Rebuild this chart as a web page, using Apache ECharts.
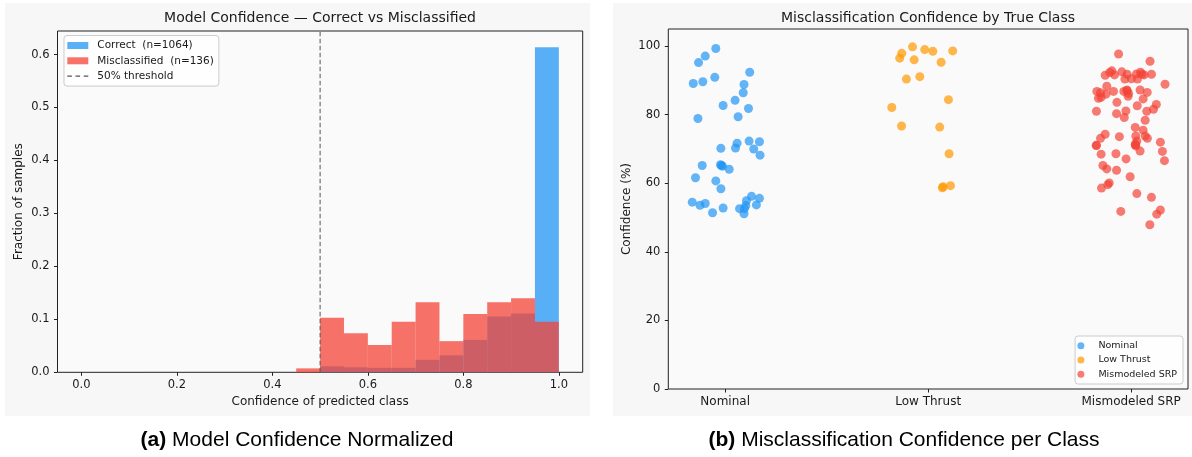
<!DOCTYPE html>
<html>
<head>
<meta charset="utf-8">
<title>Model confidence</title>
<script src="https://cdn.jsdelivr.net/npm/echarts@6/dist/echarts.min.js"></script>
<style>
  html, body { margin: 0; padding: 0; background: #ffffff; }
  #chart { width: 1192px; height: 457px; }
</style>
</head>
<body>
<div id="chart"></div>
<script>
// ---- Histogram: fraction of samples per confidence bin ----
const binEdges = [0.45, 0.50, 0.55, 0.60, 0.65, 0.70, 0.75, 0.80, 0.85, 0.90, 0.95, 1.00];
const correctFrac = [0.0000, 0.0113, 0.0094, 0.0085, 0.0085, 0.0235, 0.0320, 0.0611, 0.1053, 0.1109, 0.6137];
const misclassFrac = [0.0074, 0.1029, 0.0735, 0.0515, 0.0956, 0.1324, 0.0588, 0.1103, 0.1324, 0.1397, 0.0956];
const threshold = 0.5;
const histXTicks = [0.0, 0.2, 0.4, 0.6, 0.8, 1.0];
const histYTicks = [0.0, 0.1, 0.2, 0.3, 0.4, 0.5, 0.6];
const histYMax = 0.6444;

// ---- Strip plot: confidence of misclassified samples by true class ----
const classNames = ['Nominal', 'Low Thrust', 'Mismodeled SRP'];
const nominalJitter = [-0.046, -0.098, -0.131, -0.157, -0.110, -0.051, 0.121, 0.093, 0.089, 0.049,
  -0.010, 0.115, 0.064, -0.134, -0.021, 0.051, 0.059, 0.118, 0.169, 0.141,
  0.172, -0.113, -0.023, -0.013, 0.020, -0.146, -0.046, -0.021, -0.162, -0.124,
  -0.098, -0.062, -0.010, 0.071, 0.095, 0.105, 0.102, 0.093, 0.130, 0.169,
  0.154, -0.018];
const nominalConf = [99.3, 97.1, 95.2, 89.1, 89.6, 90.9, 92.4, 88.8, 86.4, 84.2,
  82.7, 81.8, 79.4, 78.9, 70.2, 70.3, 71.7, 72.3, 72.1, 70.0,
  68.2, 65.2, 65.4, 65.0, 64.1, 61.6, 60.7, 58.4, 54.5, 53.6,
  54.1, 51.4, 52.8, 52.6, 52.6, 54.9, 53.5, 51.1, 56.2, 55.6,
  53.7, 65.2];
const lowThrustJitter = [-0.077, -0.130, -0.140, -0.017, 0.023, 0.121, -0.069, 0.064, -0.107, -0.041,
  0.100, -0.179, -0.131, 0.057, 0.103, 0.070, 0.074, 0.110];
const lowThrustConf = [99.8, 97.9, 96.5, 99.0, 98.5, 98.6, 96.0, 95.3, 90.4, 91.1,
  84.4, 82.1, 76.7, 76.4, 68.6, 58.7, 59.0, 59.3];
const srpJitter = [-0.062, 0.093, 0.167, -0.128, -0.105, -0.095, -0.082, -0.046, -0.020, -0.031,
  0.001, 0.031, 0.026, 0.046, 0.053, 0.064, 0.100, -0.120, -0.169, -0.151,
  -0.124, -0.161, -0.148, -0.087, -0.036, -0.021, -0.013, -0.015, 0.044, 0.079,
  0.059, -0.070, 0.030, 0.124, 0.110, 0.077, -0.026, -0.072, -0.034, -0.171,
  0.069, 0.020, 0.059, 0.023, 0.069, 0.080, 0.028, 0.020, 0.023, 0.044,
  -0.058, -0.128, -0.151, -0.172, 0.144, 0.154, 0.164, -0.148, -0.075, -0.025,
  -0.139, -0.120, -0.072, -0.005, -0.108, -0.115, -0.146, 0.028, 0.100, -0.051,
  0.144, 0.126, 0.092, -0.171, -0.020, 0.021];
const srpConf = [97.7, 95.6, 88.9, 91.5, 92.3, 92.8, 91.6, 92.5, 91.8, 90.4,
  90.5, 90.4, 91.9, 92.4, 91.8, 91.6, 91.8, 88.3, 86.8, 86.4,
  86.0, 84.8, 85.1, 86.8, 86.8, 87.2, 86.2, 85.4, 87.2, 86.5,
  84.6, 83.6, 82.6, 83.0, 81.6, 81.0, 81.1, 80.3, 79.2, 81.0,
  78.4, 76.3, 75.5, 73.8, 73.8, 73.1, 72.3, 71.4, 70.9, 69.4,
  73.6, 74.3, 73.1, 71.0, 72.0, 69.3, 66.6, 68.5, 68.6, 67.1,
  65.2, 64.2, 63.8, 61.9, 60.1, 59.6, 58.6, 57.0, 55.9, 51.8,
  52.2, 51.0, 47.9, 71.1, 87.0, 71.2];
const stripYTicks = [0, 20, 40, 60, 80, 100];
const stripXTicks = [0, 1, 2];

// ---- build series data ----
function binData(fracs) {
  return fracs.map((f, i) => [binEdges[i], binEdges[i + 1], f]);
}
function stripData(classIdx, jitter, conf) {
  return conf.map((c, i) => [classIdx + jitter[i], c]);
}

const BLUE = '#2196F3', RED = '#F44336', ORANGE = '#FF9800';
const TXT = '#1a1a1a';
const FONT = 'DejaVu Sans';
// three short dashes, used as the legend key of the threshold line
const DASH_ICON = 'path://M0,0h4.6v1.2h-4.6zM8.2,0h4.6v1.2h-4.6zM16.4,0h4.6v1.2h-4.6z';

function binRenderer(color) {
  return function (params, api) {
    const top = api.coord([api.value(0), api.value(2)]);
    const base = api.coord([api.value(1), 0]);
    return {
      type: 'rect',
      shape: { x: top[0], y: top[1], width: base[0] - top[0], height: base[1] - top[1] },
      style: { fill: color, opacity: 0.75 }
    };
  };
}

const tickStyle = { show: true, inside: false, length: 3.5, lineStyle: { color: '#222', width: 1 } };
const labelStyle = { color: TXT, fontFamily: FONT, fontSize: 11.5 };
const nameStyle = { color: TXT, fontFamily: FONT, fontSize: 12 };
const hiddenLine = { show: false, onZero: false };

const chart = echarts.init(document.getElementById('chart'), null, { renderer: 'canvas' });

chart.setOption({
  backgroundColor: '#ffffff',
  animation: false,
  graphic: [
    { type: 'rect', z: -100, shape: { x: 5, y: 3, width: 585, height: 413 }, style: { fill: '#f7f7f7' } },
    { type: 'rect', z: -100, shape: { x: 613, y: 3, width: 579, height: 413 }, style: { fill: '#f7f7f7' } },
    { type: 'text', x: 320, y: 18, style: { text: 'Model Confidence \u2014 Correct vs Misclassified', fill: TXT,
      font: '14px "DejaVu Sans"', textAlign: 'center', textVerticalAlign: 'middle' } },
    { type: 'text', x: 928, y: 18, style: { text: 'Misclassification Confidence by True Class', fill: TXT,
      font: '14px "DejaVu Sans"', textAlign: 'center', textVerticalAlign: 'middle' } },
    { type: 'text', x: 297, y: 440, style: { text: '{b|(a)}{r| Model Confidence Normalized}', textAlign: 'center', textVerticalAlign: 'middle',
      rich: { b: { fontFamily: 'Liberation Sans', fontSize: 21, fontWeight: 'bold', fill: '#000' },
              r: { fontFamily: 'Liberation Sans', fontSize: 21, fill: '#000' } } } },
    { type: 'text', x: 904, y: 440, style: { text: '{b|(b)}{r| Misclassification Confidence per Class}', textAlign: 'center', textVerticalAlign: 'middle',
      rich: { b: { fontFamily: 'Liberation Sans', fontSize: 21, fontWeight: 'bold', fill: '#000' },
              r: { fontFamily: 'Liberation Sans', fontSize: 21, fill: '#000' } } } }
  ],
  grid: [
    { left: 57.5, right: 609.3, top: 31, bottom: 84.7, show: true, backgroundColor: '#fafafa', borderColor: '#222', borderWidth: 1 },
    { left: 668.3, right: 4, top: 29, bottom: 68, show: true, backgroundColor: '#fafafa', borderColor: '#222', borderWidth: 1 }
  ],
  xAxis: [
    { type: 'value', gridIndex: 0, min: -0.05, max: 1.05, position: 'bottom',
      axisLine: hiddenLine, splitLine: { show: false },
      axisTick: Object.assign({ customValues: histXTicks }, tickStyle),
      axisLabel: Object.assign({ customValues: histXTicks, margin: 7, formatter: v => v.toFixed(1) }, labelStyle),
      name: 'Confidence of predicted class', nameLocation: 'middle', nameGap: 23, nameTextStyle: nameStyle },
    { type: 'value', gridIndex: 1, min: -0.28, max: 2.28, position: 'bottom',
      axisLine: hiddenLine, splitLine: { show: false },
      axisTick: Object.assign({ customValues: stripXTicks }, tickStyle),
      axisLabel: Object.assign({ customValues: stripXTicks, margin: 7, formatter: v => classNames[Math.round(v)] }, labelStyle, { fontSize: 12 }) }
  ],
  yAxis: [
    { type: 'value', gridIndex: 0, min: 0, max: histYMax, position: 'left',
      axisLine: hiddenLine, splitLine: { show: false },
      axisTick: Object.assign({ customValues: histYTicks }, tickStyle),
      axisLabel: Object.assign({ customValues: histYTicks, margin: 8, formatter: v => v.toFixed(1) }, labelStyle),
      name: 'Fraction of samples', nameLocation: 'middle', nameGap: 33, nameTextStyle: nameStyle },
    { type: 'value', gridIndex: 1, min: 0, max: 105, position: 'left',
      axisLine: hiddenLine, splitLine: { show: false },
      axisTick: Object.assign({ customValues: stripYTicks }, tickStyle),
      axisLabel: Object.assign({ customValues: stripYTicks, margin: 8 }, labelStyle),
      name: 'Confidence (%)', nameLocation: 'middle', nameGap: 35, nameTextStyle: nameStyle }
  ],
  legend: [
    { orient: 'vertical', left: 64, top: 35.5, padding: [3.5, 5, 3.5, 3.3],
      itemWidth: 21, itemHeight: 7, itemGap: 2.3, symbolKeepAspect: true,
      backgroundColor: 'rgba(255,255,255,0.8)', borderColor: '#cccccc', borderWidth: 1, borderRadius: 3,
      textStyle: { fontFamily: FONT, fontSize: 10.5, color: TXT, lineHeight: 13, padding: [0, 0, 0, 4] },
      data: [
        { name: 'Correct  (n=1064)', icon: 'rect', itemStyle: { color: BLUE, opacity: 0.75 } },
        { name: 'Misclassified  (n=136)', icon: 'rect', itemStyle: { color: RED, opacity: 0.75 } },
        { name: '50% threshold', icon: DASH_ICON, itemStyle: { color: '#555555', opacity: 1 } }
      ] },
    { orient: 'vertical', right: 9, top: 336, padding: [3.7, 6, 3.7, 2.3],
      itemWidth: 21, itemHeight: 7, itemGap: 2.3,
      backgroundColor: 'rgba(255,255,255,0.8)', borderColor: '#cccccc', borderWidth: 1, borderRadius: 3,
      textStyle: { fontFamily: FONT, fontSize: 9.5, color: TXT, lineHeight: 12, padding: [0, 0, 0, 2] },
      data: classNames }
  ],
  series: [
    { type: 'custom', name: 'Correct  (n=1064)', xAxisIndex: 0, yAxisIndex: 0,
      renderItem: binRenderer(BLUE), encode: { x: [0, 1], y: 2 },
      itemStyle: { color: BLUE, opacity: 0.75 }, data: binData(correctFrac) },
    { type: 'custom', name: 'Misclassified  (n=136)', xAxisIndex: 0, yAxisIndex: 0,
      renderItem: binRenderer(RED), encode: { x: [0, 1], y: 2 },
      itemStyle: { color: RED, opacity: 0.75 }, data: binData(misclassFrac) },
    { type: 'line', name: '50% threshold', xAxisIndex: 0, yAxisIndex: 0,
      symbol: 'none', z: 5, color: '#555555',
      lineStyle: { color: '#555555', width: 1, type: [4.5, 2.5] },
      data: [[threshold, 0], [threshold, histYMax]] },
    { type: 'scatter', name: classNames[0], xAxisIndex: 1, yAxisIndex: 1, symbolSize: 9,
      itemStyle: { color: BLUE, opacity: 0.7 }, data: stripData(0, nominalJitter, nominalConf) },
    { type: 'scatter', name: classNames[1], xAxisIndex: 1, yAxisIndex: 1, symbolSize: 9,
      itemStyle: { color: ORANGE, opacity: 0.7 }, data: stripData(1, lowThrustJitter, lowThrustConf) },
    { type: 'scatter', name: classNames[2], xAxisIndex: 1, yAxisIndex: 1, symbolSize: 9,
      itemStyle: { color: RED, opacity: 0.7 }, data: stripData(2, srpJitter, srpConf) }
  ]
});
</script>
</body>
</html>
